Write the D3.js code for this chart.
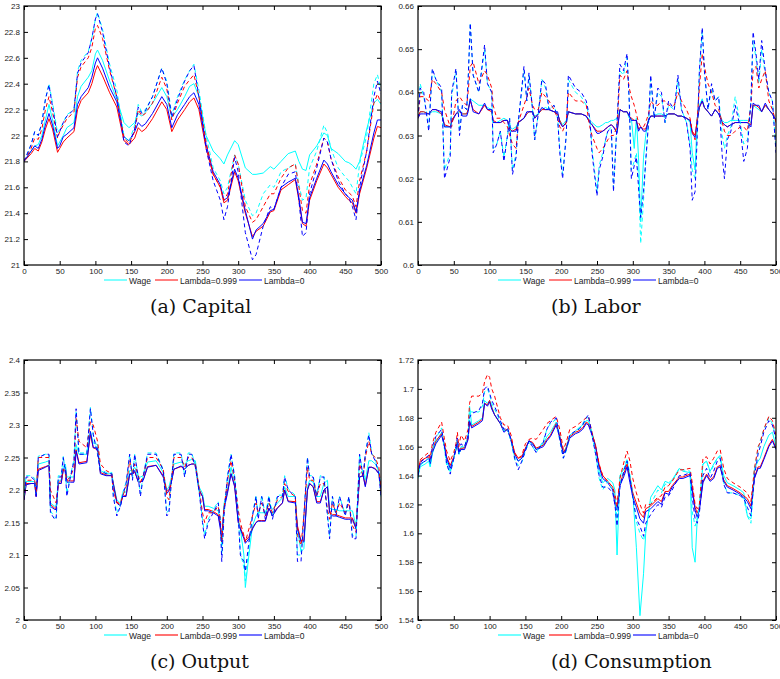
<!DOCTYPE html>
<html>
<head>
  <meta charset="utf-8">
  <title>Capital, Labor, Output, Consumption</title>
  <script src="https://d3js.org/d3.v7.min.js"></script>
  <style>
    body { margin: 0; background: #fff; }
    .tick text { font-family: "Liberation Sans", Arial, sans-serif; font-size: 8px; fill: #222; }
    .legend text { font-family: "Liberation Sans", Arial, sans-serif; font-size: 8.5px; fill: #222; }
    .caption { font-family: "DejaVu Serif", serif; font-size: 19px; fill: #111; }
  </style>
</head>
<body>
  <script>
    // ---- data ----
    var seriesNames = ["Wage", "Lambda=0.999", "Lambda=0"];
    var xTicks = [0, 50, 100, 150, 200, 250, 300, 350, 400, 450, 500];

    // (a) Capital
    var capitalX = [0,10,15,20,25,30,35,40,47,50,55,60,70,75,80,90,95,100,103,110,120,130,140,147,155,160,165,170,180,193,200,207,215,225,232,238,245,255,265,275,280,285,295,300,310,320,325,335,345,350,360,370,380,385,390,395,400,410,420,425,430,440,450,455,460,465,470,480,490,495,500];
    var capitalWageSolid = [21.8,21.88,21.92,21.93,22.0,22.12,22.24,22.12,21.92,21.95,22.0,22.06,22.1,22.3,22.38,22.45,22.5,22.63,22.66,22.58,22.42,22.28,22.1,22.06,22.1,22.17,22.15,22.18,22.25,22.37,22.3,22.14,22.2,22.3,22.38,22.4,22.3,22.0,21.88,21.82,21.78,21.85,21.96,21.93,21.75,21.7,21.7,21.71,21.76,21.74,21.8,21.86,21.88,21.8,21.74,21.73,21.85,21.92,22.02,22.0,21.9,21.86,21.8,21.79,21.77,21.74,21.8,22.05,22.25,22.28,22.24];
    var capitalLam999Solid = [21.8,21.86,21.9,21.88,21.95,22.05,22.13,22.05,21.87,21.9,21.95,21.98,22.03,22.2,22.27,22.33,22.4,22.5,22.54,22.46,22.33,22.22,21.96,21.93,21.98,22.06,22.03,22.05,22.13,22.26,22.2,22.03,22.12,22.2,22.26,22.29,22.2,21.9,21.7,21.6,21.48,21.5,21.72,21.65,21.4,21.22,21.26,21.3,21.41,21.42,21.58,21.62,21.66,21.5,21.32,21.3,21.5,21.65,21.78,21.75,21.7,21.6,21.53,21.5,21.48,21.4,21.55,21.75,21.98,22.07,22.06];
    var capitalLam0Solid = [21.8,21.88,21.92,21.9,21.97,22.08,22.17,22.08,21.9,21.92,21.99,22.01,22.06,22.24,22.3,22.37,22.45,22.56,22.6,22.52,22.37,22.26,21.99,21.96,22.03,22.1,22.07,22.09,22.17,22.3,22.24,22.06,22.16,22.24,22.3,22.33,22.24,21.93,21.72,21.62,21.5,21.52,21.74,21.67,21.42,21.2,21.27,21.32,21.42,21.43,21.6,21.64,21.67,21.52,21.33,21.32,21.52,21.67,21.81,21.78,21.72,21.62,21.55,21.52,21.5,21.41,21.57,21.77,22.02,22.12,22.12];
    var capitalWageDashed = [21.8,21.93,22.03,22.0,22.1,22.28,22.4,22.25,22.02,22.05,22.1,22.16,22.2,22.5,22.58,22.65,22.75,22.9,22.95,22.82,22.55,22.35,22.0,21.95,22.08,22.24,22.18,22.2,22.3,22.52,22.42,22.16,22.3,22.43,22.5,22.55,22.35,22.0,21.75,21.65,21.55,21.6,21.85,21.78,21.5,21.38,21.4,21.55,21.62,21.6,21.72,21.75,21.78,21.62,21.5,21.52,21.75,21.88,22.08,22.02,21.9,21.75,21.68,21.65,21.6,21.55,21.78,22.0,22.4,22.47,22.36];
    var capitalLam999Dashed = [21.8,21.9,21.98,21.97,22.05,22.2,22.3,22.18,21.98,22.03,22.08,22.13,22.18,22.45,22.53,22.6,22.68,22.83,22.85,22.75,22.5,22.3,21.98,21.94,22.03,22.2,22.15,22.17,22.25,22.45,22.36,22.12,22.25,22.38,22.43,22.47,22.3,21.95,21.7,21.6,21.5,21.55,21.85,21.78,21.45,21.33,21.35,21.45,21.55,21.55,21.67,21.75,21.78,21.6,21.42,21.4,21.62,21.78,21.98,21.95,21.82,21.68,21.58,21.56,21.53,21.45,21.65,21.88,22.25,22.32,22.25];
    var capitalLam0Dashed = [21.8,21.93,22.03,22.0,22.1,22.28,22.39,22.22,21.99,22.03,22.1,22.15,22.2,22.48,22.56,22.64,22.75,22.9,22.94,22.8,22.52,22.3,21.95,21.92,22.05,22.22,22.17,22.19,22.3,22.52,22.4,22.14,22.28,22.42,22.5,22.54,22.3,21.9,21.65,21.5,21.35,21.45,21.83,21.72,21.25,21.04,21.08,21.3,21.45,21.43,21.6,21.7,21.72,21.5,21.22,21.25,21.55,21.75,21.98,21.95,21.82,21.65,21.55,21.52,21.45,21.35,21.6,21.88,22.3,22.42,22.32];
    var capitalYTicks = [21, 21.2, 21.4, 21.6, 21.8, 22, 22.2, 22.4, 22.6, 22.8, 23];

    // (b) Labor
    var laborX = [0,3,8,15,20,25,33,37,45,47,53,58,62,68,70,73,77,85,93,97,103,105,110,115,120,125,128,132,137,140,148,152,155,160,163,168,173,178,183,190,195,198,202,207,210,220,228,235,240,243,250,253,258,262,265,270,273,278,282,287,292,295,298,302,305,308,311,315,318,322,325,330,335,340,345,350,358,363,368,375,380,383,387,390,393,397,400,405,410,415,420,425,428,432,437,443,450,455,460,465,468,472,476,480,485,490,495,500];
    var laborWageSolid = [0.6345,0.6355,0.6355,0.635,0.6355,0.6355,0.635,0.632,0.632,0.6335,0.635,0.6355,0.635,0.635,0.636,0.6385,0.638,0.637,0.637,0.6365,0.636,0.633,0.633,0.6335,0.634,0.6335,0.632,0.6315,0.632,0.633,0.634,0.635,0.6355,0.6355,0.6345,0.635,0.636,0.6365,0.636,0.6355,0.635,0.6335,0.6325,0.6335,0.6355,0.635,0.635,0.6345,0.6335,0.633,0.632,0.632,0.6325,0.633,0.633,0.6335,0.6335,0.634,0.636,0.6355,0.6355,0.634,0.634,0.627,0.634,0.625,0.610,0.625,0.630,0.634,0.6345,0.6345,0.635,0.635,0.6345,0.635,0.635,0.6345,0.6345,0.634,0.633,0.626,0.622,0.634,0.637,0.6385,0.6365,0.6355,0.6345,0.636,0.635,0.6335,0.633,0.633,0.6335,0.6335,0.6335,0.6335,0.6335,0.633,0.637,0.6365,0.636,0.6355,0.637,0.636,0.635,0.6335];
    var laborLam999Solid = [0.634,0.6355,0.6355,0.635,0.636,0.636,0.635,0.6325,0.632,0.6335,0.635,0.6355,0.635,0.635,0.636,0.638,0.636,0.635,0.637,0.636,0.6355,0.6335,0.633,0.633,0.6335,0.6335,0.6315,0.631,0.6315,0.633,0.634,0.635,0.6355,0.6355,0.634,0.635,0.636,0.636,0.636,0.6355,0.635,0.6335,0.632,0.633,0.6355,0.635,0.635,0.6345,0.633,0.6325,0.631,0.631,0.631,0.6315,0.632,0.6325,0.632,0.631,0.636,0.6355,0.6355,0.6345,0.634,0.6335,0.6335,0.6315,0.632,0.6315,0.6315,0.6335,0.6345,0.6345,0.6345,0.6345,0.6345,0.635,0.635,0.6345,0.6345,0.634,0.6335,0.631,0.630,0.6335,0.6365,0.638,0.6365,0.6355,0.6345,0.636,0.635,0.633,0.6325,0.632,0.6325,0.633,0.633,0.633,0.633,0.6325,0.637,0.637,0.6365,0.6355,0.637,0.636,0.635,0.6335];
    var laborLam0Solid = [0.634,0.635,0.635,0.635,0.636,0.636,0.6355,0.632,0.632,0.633,0.635,0.636,0.6345,0.6345,0.6355,0.6385,0.6355,0.635,0.6375,0.636,0.636,0.633,0.633,0.633,0.6335,0.6335,0.631,0.631,0.631,0.633,0.634,0.6355,0.6355,0.6355,0.634,0.635,0.6365,0.636,0.636,0.6355,0.6355,0.633,0.632,0.633,0.6355,0.635,0.635,0.6345,0.633,0.6325,0.6305,0.6305,0.631,0.6315,0.632,0.6325,0.632,0.6305,0.636,0.6355,0.6355,0.6345,0.6335,0.6335,0.6335,0.631,0.632,0.631,0.631,0.6335,0.6345,0.6345,0.6345,0.6345,0.6345,0.635,0.635,0.6345,0.6345,0.634,0.6335,0.6305,0.6295,0.6335,0.6365,0.638,0.6365,0.6355,0.6345,0.636,0.635,0.633,0.6325,0.632,0.6325,0.633,0.633,0.633,0.633,0.632,0.6375,0.637,0.637,0.6355,0.6375,0.636,0.635,0.6335];
    var laborWageDashed = [0.634,0.642,0.639,0.632,0.645,0.643,0.640,0.622,0.626,0.639,0.645,0.631,0.637,0.636,0.642,0.656,0.644,0.640,0.650,0.642,0.640,0.627,0.628,0.631,0.625,0.630,0.634,0.622,0.626,0.633,0.645,0.638,0.644,0.636,0.629,0.635,0.643,0.641,0.636,0.637,0.634,0.627,0.621,0.630,0.643,0.640,0.639,0.637,0.634,0.627,0.617,0.623,0.626,0.629,0.631,0.632,0.618,0.633,0.645,0.644,0.648,0.638,0.622,0.624,0.626,0.620,0.605,0.615,0.624,0.633,0.643,0.634,0.640,0.639,0.633,0.637,0.636,0.643,0.636,0.633,0.628,0.622,0.620,0.631,0.645,0.654,0.645,0.636,0.641,0.638,0.639,0.630,0.627,0.630,0.632,0.639,0.633,0.628,0.629,0.638,0.652,0.648,0.642,0.650,0.644,0.640,0.638,0.627];
    var laborLam999Dashed = [0.634,0.639,0.639,0.638,0.643,0.642,0.640,0.636,0.632,0.632,0.638,0.639,0.638,0.637,0.640,0.646,0.647,0.642,0.645,0.644,0.641,0.637,0.634,0.634,0.633,0.632,0.630,0.628,0.627,0.633,0.637,0.639,0.641,0.637,0.636,0.636,0.640,0.639,0.638,0.636,0.634,0.632,0.631,0.633,0.640,0.638,0.638,0.637,0.632,0.630,0.627,0.626,0.627,0.628,0.629,0.630,0.630,0.632,0.644,0.643,0.645,0.641,0.639,0.637,0.635,0.633,0.632,0.632,0.633,0.635,0.638,0.637,0.637,0.638,0.638,0.637,0.637,0.640,0.638,0.636,0.634,0.631,0.629,0.634,0.641,0.649,0.646,0.642,0.640,0.637,0.636,0.633,0.631,0.630,0.630,0.631,0.632,0.632,0.631,0.637,0.645,0.646,0.641,0.643,0.645,0.638,0.636,0.633];
    var laborLam0Dashed = [0.634,0.641,0.640,0.631,0.6455,0.643,0.641,0.620,0.625,0.640,0.6455,0.630,0.637,0.636,0.643,0.656,0.644,0.640,0.651,0.642,0.640,0.626,0.628,0.631,0.624,0.630,0.634,0.621,0.625,0.633,0.646,0.638,0.6445,0.636,0.629,0.635,0.643,0.642,0.636,0.637,0.634,0.626,0.620,0.630,0.644,0.641,0.640,0.638,0.634,0.626,0.616,0.622,0.625,0.629,0.631,0.6315,0.617,0.633,0.6465,0.645,0.649,0.638,0.620,0.623,0.625,0.618,0.611,0.617,0.624,0.633,0.644,0.634,0.641,0.640,0.633,0.638,0.636,0.644,0.636,0.633,0.627,0.615,0.617,0.630,0.645,0.655,0.645,0.636,0.642,0.638,0.639,0.625,0.620,0.629,0.631,0.637,0.632,0.624,0.627,0.638,0.654,0.649,0.643,0.652,0.645,0.640,0.638,0.626];
    var laborYTicks = [0.6, 0.61, 0.62, 0.63, 0.64, 0.65, 0.66];

    // (c) Output
    var outputX = [0,3,10,15,17,20,30,35,37,43,45,48,52,55,58,60,65,70,73,77,88,93,97,103,107,115,123,125,130,135,138,143,148,152,155,160,163,167,173,185,195,200,203,207,210,220,225,230,235,240,245,250,253,258,265,272,275,277,280,285,290,295,300,303,308,310,315,320,325,328,333,338,343,348,355,362,365,370,380,383,388,392,397,400,405,410,415,420,425,428,432,437,442,450,455,460,465,470,475,478,483,487,492,497,500];
    var outputWageSolid = [2.19,2.213,2.213,2.213,2.195,2.24,2.243,2.245,2.18,2.175,2.175,2.215,2.215,2.235,2.24,2.22,2.22,2.22,2.27,2.255,2.255,2.29,2.272,2.27,2.23,2.225,2.225,2.212,2.185,2.18,2.195,2.197,2.23,2.23,2.235,2.22,2.22,2.222,2.243,2.245,2.227,2.2,2.205,2.222,2.24,2.243,2.24,2.245,2.247,2.245,2.205,2.195,2.175,2.175,2.172,2.168,2.15,2.115,2.178,2.2,2.235,2.21,2.155,2.14,2.1,2.05,2.1,2.145,2.16,2.165,2.165,2.165,2.18,2.17,2.18,2.188,2.205,2.19,2.19,2.14,2.105,2.11,2.205,2.215,2.212,2.19,2.19,2.21,2.215,2.172,2.17,2.17,2.168,2.168,2.168,2.168,2.145,2.225,2.23,2.215,2.245,2.245,2.24,2.23,2.205];
    var outputLam999Solid = [2.185,2.21,2.21,2.21,2.19,2.232,2.236,2.238,2.178,2.172,2.172,2.21,2.21,2.23,2.232,2.214,2.214,2.214,2.262,2.242,2.244,2.285,2.265,2.262,2.227,2.223,2.222,2.21,2.182,2.177,2.19,2.192,2.224,2.224,2.228,2.213,2.213,2.216,2.236,2.238,2.222,2.198,2.2,2.216,2.232,2.236,2.232,2.238,2.24,2.24,2.202,2.19,2.17,2.17,2.167,2.162,2.145,2.125,2.172,2.198,2.225,2.207,2.152,2.142,2.128,2.122,2.128,2.142,2.15,2.153,2.153,2.153,2.172,2.162,2.173,2.18,2.2,2.183,2.182,2.145,2.122,2.122,2.2,2.21,2.205,2.182,2.182,2.2,2.205,2.166,2.162,2.162,2.16,2.157,2.157,2.157,2.142,2.22,2.222,2.207,2.235,2.235,2.233,2.225,2.2];
    var outputLam0Solid = [2.185,2.208,2.21,2.21,2.19,2.23,2.235,2.238,2.175,2.17,2.17,2.21,2.21,2.232,2.235,2.212,2.212,2.212,2.26,2.24,2.242,2.29,2.265,2.265,2.225,2.222,2.222,2.21,2.18,2.175,2.19,2.19,2.225,2.225,2.23,2.212,2.212,2.215,2.235,2.238,2.22,2.195,2.198,2.215,2.232,2.237,2.232,2.238,2.24,2.24,2.2,2.19,2.168,2.168,2.165,2.16,2.14,2.12,2.17,2.195,2.225,2.205,2.15,2.14,2.125,2.118,2.125,2.14,2.15,2.152,2.152,2.152,2.172,2.16,2.172,2.18,2.2,2.182,2.18,2.14,2.12,2.12,2.2,2.21,2.205,2.18,2.18,2.2,2.205,2.165,2.16,2.16,2.158,2.155,2.155,2.155,2.14,2.22,2.222,2.205,2.235,2.235,2.232,2.225,2.2];
    var outputWageDashed = [2.19,2.222,2.222,2.218,2.192,2.252,2.255,2.255,2.168,2.158,2.157,2.222,2.222,2.252,2.228,2.195,2.222,2.247,2.322,2.257,2.257,2.327,2.285,2.257,2.232,2.227,2.227,2.195,2.165,2.178,2.195,2.212,2.255,2.218,2.255,2.222,2.195,2.222,2.257,2.257,2.232,2.165,2.17,2.222,2.257,2.257,2.222,2.257,2.257,2.237,2.2,2.155,2.13,2.155,2.17,2.182,2.155,2.1,2.165,2.222,2.255,2.222,2.165,2.105,2.08,2.06,2.11,2.162,2.192,2.16,2.192,2.16,2.192,2.16,2.192,2.192,2.222,2.202,2.192,2.1,2.1,2.16,2.25,2.222,2.222,2.192,2.222,2.222,2.165,2.13,2.19,2.162,2.19,2.162,2.19,2.13,2.128,2.255,2.222,2.255,2.288,2.257,2.247,2.227,2.19];
    var outputLam999Dashed = [2.185,2.215,2.215,2.215,2.195,2.25,2.25,2.25,2.2,2.185,2.18,2.21,2.215,2.232,2.225,2.215,2.22,2.235,2.31,2.275,2.265,2.305,2.3,2.275,2.24,2.23,2.225,2.2,2.18,2.18,2.19,2.205,2.245,2.225,2.24,2.222,2.212,2.222,2.25,2.25,2.232,2.19,2.185,2.22,2.25,2.25,2.235,2.25,2.25,2.238,2.205,2.165,2.15,2.165,2.165,2.175,2.155,2.12,2.17,2.215,2.245,2.215,2.17,2.15,2.13,2.12,2.14,2.16,2.18,2.165,2.18,2.16,2.18,2.165,2.185,2.19,2.21,2.198,2.19,2.13,2.115,2.16,2.235,2.215,2.215,2.19,2.21,2.21,2.17,2.155,2.18,2.165,2.18,2.165,2.18,2.145,2.135,2.24,2.22,2.25,2.275,2.255,2.25,2.235,2.2];
    var outputLam0Dashed = [2.185,2.22,2.22,2.215,2.19,2.25,2.255,2.255,2.165,2.155,2.155,2.22,2.22,2.25,2.225,2.19,2.22,2.245,2.325,2.255,2.255,2.325,2.285,2.255,2.23,2.225,2.225,2.19,2.16,2.175,2.19,2.21,2.255,2.215,2.255,2.22,2.19,2.22,2.255,2.255,2.23,2.16,2.165,2.22,2.255,2.255,2.22,2.255,2.255,2.235,2.2,2.15,2.125,2.15,2.165,2.18,2.15,2.09,2.16,2.22,2.255,2.22,2.16,2.1,2.09,2.075,2.12,2.16,2.19,2.155,2.19,2.155,2.19,2.155,2.19,2.19,2.22,2.2,2.19,2.09,2.09,2.16,2.25,2.22,2.22,2.19,2.22,2.22,2.16,2.125,2.19,2.16,2.19,2.16,2.19,2.125,2.125,2.255,2.22,2.255,2.285,2.255,2.245,2.225,2.19];
    var outputYTicks = [2, 2.05, 2.1, 2.15, 2.2, 2.25, 2.3, 2.35, 2.4];

    // (d) Consumption
    var consX = [0,3,10,15,17,20,25,33,37,40,45,50,53,55,57,60,65,70,72,75,85,90,93,97,100,103,107,115,120,125,130,135,140,145,150,155,160,165,175,180,185,193,198,203,207,212,220,225,230,235,238,243,248,253,258,265,272,275,278,282,288,292,296,300,305,310,315,318,325,335,340,345,350,355,365,370,380,383,387,390,393,398,403,408,413,418,422,427,432,440,450,455,460,465,470,475,478,483,490,495,500];
    var consWageSolid = [1.639,1.646,1.648,1.65,1.646,1.655,1.663,1.67,1.66,1.65,1.643,1.652,1.658,1.663,1.655,1.658,1.66,1.667,1.688,1.675,1.678,1.68,1.692,1.69,1.692,1.688,1.682,1.676,1.671,1.672,1.664,1.653,1.65,1.652,1.658,1.664,1.662,1.658,1.662,1.667,1.67,1.677,1.668,1.655,1.66,1.668,1.671,1.673,1.675,1.678,1.678,1.67,1.66,1.643,1.635,1.638,1.635,1.63,1.585,1.64,1.645,1.65,1.64,1.628,1.59,1.543,1.572,1.6,1.625,1.633,1.63,1.636,1.635,1.637,1.645,1.643,1.642,1.59,1.58,1.61,1.618,1.648,1.65,1.643,1.648,1.652,1.653,1.64,1.635,1.633,1.63,1.628,1.612,1.61,1.645,1.65,1.652,1.66,1.668,1.67,1.66];
    var consLam999Solid = [1.641,1.65,1.652,1.653,1.65,1.658,1.664,1.669,1.661,1.653,1.647,1.653,1.659,1.664,1.656,1.659,1.659,1.666,1.677,1.674,1.677,1.679,1.69,1.689,1.692,1.687,1.682,1.676,1.671,1.672,1.665,1.656,1.652,1.653,1.659,1.664,1.663,1.659,1.661,1.665,1.668,1.676,1.667,1.656,1.659,1.667,1.67,1.671,1.673,1.677,1.676,1.669,1.661,1.647,1.64,1.636,1.632,1.623,1.618,1.635,1.642,1.648,1.638,1.628,1.621,1.614,1.611,1.617,1.619,1.624,1.622,1.629,1.629,1.633,1.639,1.639,1.641,1.632,1.618,1.614,1.618,1.636,1.641,1.637,1.639,1.646,1.647,1.637,1.633,1.631,1.628,1.626,1.624,1.619,1.639,1.646,1.646,1.652,1.661,1.665,1.659];
    var consLam0Solid = [1.64,1.648,1.65,1.652,1.648,1.656,1.662,1.668,1.66,1.652,1.645,1.652,1.658,1.663,1.655,1.658,1.658,1.665,1.678,1.673,1.676,1.678,1.69,1.688,1.691,1.686,1.682,1.676,1.67,1.672,1.664,1.655,1.65,1.652,1.658,1.664,1.662,1.658,1.66,1.664,1.667,1.675,1.666,1.655,1.658,1.666,1.669,1.67,1.672,1.676,1.675,1.668,1.66,1.646,1.638,1.635,1.63,1.62,1.616,1.633,1.64,1.646,1.635,1.625,1.618,1.61,1.607,1.615,1.617,1.622,1.62,1.628,1.627,1.632,1.638,1.638,1.64,1.63,1.616,1.611,1.616,1.635,1.64,1.636,1.638,1.645,1.646,1.636,1.632,1.63,1.627,1.625,1.622,1.617,1.638,1.645,1.645,1.651,1.66,1.664,1.658];
    var consWageDashed = [1.638,1.647,1.65,1.652,1.647,1.658,1.666,1.673,1.658,1.647,1.642,1.652,1.66,1.665,1.654,1.66,1.66,1.668,1.685,1.684,1.684,1.688,1.698,1.7,1.696,1.69,1.686,1.677,1.671,1.672,1.664,1.651,1.647,1.649,1.657,1.663,1.66,1.656,1.664,1.672,1.676,1.679,1.664,1.652,1.657,1.667,1.671,1.673,1.676,1.68,1.68,1.668,1.655,1.638,1.63,1.636,1.63,1.625,1.61,1.634,1.645,1.652,1.64,1.626,1.608,1.6,1.595,1.603,1.62,1.63,1.628,1.634,1.634,1.636,1.645,1.644,1.643,1.615,1.605,1.61,1.62,1.648,1.65,1.642,1.647,1.652,1.654,1.635,1.628,1.628,1.626,1.624,1.612,1.607,1.645,1.658,1.664,1.672,1.68,1.676,1.666];
    var consLam999Dashed = [1.641,1.651,1.654,1.656,1.652,1.662,1.67,1.677,1.665,1.657,1.65,1.656,1.662,1.67,1.66,1.668,1.664,1.672,1.69,1.695,1.695,1.697,1.705,1.71,1.708,1.7,1.695,1.68,1.675,1.675,1.668,1.655,1.652,1.654,1.662,1.665,1.666,1.665,1.672,1.676,1.678,1.681,1.672,1.658,1.663,1.672,1.674,1.676,1.678,1.68,1.681,1.67,1.66,1.648,1.64,1.636,1.632,1.627,1.62,1.638,1.65,1.657,1.65,1.638,1.628,1.62,1.614,1.62,1.62,1.625,1.626,1.632,1.633,1.636,1.644,1.644,1.645,1.635,1.62,1.617,1.62,1.652,1.653,1.648,1.652,1.657,1.658,1.645,1.638,1.635,1.632,1.63,1.628,1.622,1.645,1.66,1.663,1.672,1.681,1.678,1.668];
    var consLam0Dashed = [1.64,1.649,1.652,1.654,1.649,1.66,1.667,1.672,1.66,1.648,1.641,1.652,1.66,1.666,1.655,1.662,1.66,1.668,1.68,1.683,1.685,1.69,1.7,1.702,1.697,1.692,1.688,1.678,1.672,1.673,1.665,1.652,1.644,1.65,1.657,1.664,1.66,1.656,1.663,1.672,1.677,1.68,1.665,1.652,1.658,1.668,1.671,1.672,1.675,1.68,1.682,1.668,1.655,1.64,1.632,1.632,1.628,1.62,1.605,1.632,1.644,1.65,1.638,1.625,1.61,1.605,1.598,1.607,1.613,1.62,1.618,1.625,1.626,1.63,1.64,1.64,1.642,1.625,1.61,1.607,1.614,1.64,1.645,1.638,1.643,1.65,1.652,1.634,1.628,1.628,1.626,1.624,1.618,1.612,1.64,1.655,1.66,1.67,1.678,1.675,1.665];
    var consYTicks = [1.54, 1.56, 1.58, 1.6, 1.62, 1.64, 1.66, 1.68, 1.7, 1.72];

    // ---- drawing ----
    var colors = ["#00ffff", "#ff0000", "#0000ff"];

    // captions sit left-aligned at the same x in each column
    var panels = [
      { caption: "(a) Capital", capX: 150, left: 24, top: 6, w: 357, h: 259, x: capitalX, yTicks: capitalYTicks,
        solid: [capitalWageSolid, capitalLam999Solid, capitalLam0Solid],
        dashed: [capitalWageDashed, capitalLam999Dashed, capitalLam0Dashed], faded: false },
      { caption: "(b) Labor", capX: 551, left: 418, top: 6, w: 358, h: 259, x: laborX, yTicks: laborYTicks,
        solid: [laborWageSolid, laborLam999Solid, laborLam0Solid],
        dashed: [laborWageDashed, laborLam999Dashed, laborLam0Dashed], faded: false },
      { caption: "(c) Output", capX: 150, left: 24, top: 360, w: 357, h: 260, x: outputX, yTicks: outputYTicks,
        solid: [outputWageSolid, outputLam999Solid, outputLam0Solid],
        dashed: [outputWageDashed, outputLam999Dashed, outputLam0Dashed], faded: true },
      { caption: "(d) Consumption", capX: 551, left: 418, top: 360, w: 358, h: 260, x: consX, yTicks: consYTicks,
        solid: [consWageSolid, consLam999Solid, consLam0Solid],
        dashed: [consWageDashed, consLam999Dashed, consLam0Dashed], faded: true }
    ];

    var svg = d3.select("body").append("svg")
      .attr("width", 780).attr("height", 679)
      .style("display", "block");
    svg.append("rect").attr("width", 780).attr("height", 679).attr("fill", "#fff");

    var fmt = d3.format(".4~f");

    panels.forEach(function(p, i) {
      var yt = p.yTicks;
      var x = d3.scaleLinear().domain([0, 500]).range([p.left, p.left + p.w]);
      var y = d3.scaleLinear().domain([yt[0], yt[yt.length - 1]]).range([p.top + p.h, p.top]);
      var g = svg.append("g");

      var clipId = "clip" + i;
      g.append("clipPath").attr("id", clipId).append("rect")
        .attr("x", p.left).attr("y", p.top).attr("width", p.w).attr("height", p.h);

      function draw(values, color, dashed) {
        var line = d3.line()
          .x(function(d, k) { return x(p.x[k]); })
          .y(function(d) { return y(d); });
        g.append("path")
          .attr("clip-path", "url(#" + clipId + ")")
          .attr("d", line(values))
          .attr("fill", "none")
          .attr("stroke", color)
          .attr("stroke-width", 1)
          .attr("stroke-dasharray", dashed ? "4,3" : null);
      }
      p.solid.forEach(function(s, k) { draw(s, colors[k], false); });
      p.dashed.forEach(function(s, k) { draw(s, colors[k], true); });

      // matlab style box with inward ticks on every side
      g.append("g").attr("transform", "translate(0," + (p.top + p.h) + ")")
        .call(d3.axisBottom(x).tickValues(xTicks).tickSizeInner(-4).tickSizeOuter(0).tickPadding(3));
      g.append("g").attr("transform", "translate(" + p.left + ",0)")
        .call(d3.axisLeft(y).tickValues(yt).tickFormat(fmt).tickSizeInner(-4).tickSizeOuter(0).tickPadding(4));
      g.append("g").attr("transform", "translate(0," + p.top + ")")
        .call(d3.axisTop(x).tickValues(xTicks).tickFormat("").tickSizeInner(-4).tickSizeOuter(0));
      g.append("g").attr("transform", "translate(" + (p.left + p.w) + ",0)")
        .call(d3.axisRight(y).tickValues(yt).tickFormat("").tickSizeInner(-4).tickSizeOuter(0));
      g.selectAll(".domain").remove();
      g.selectAll(".tick line").attr("stroke", "#000");
      g.append("rect")
        .attr("x", p.left).attr("y", p.top).attr("width", p.w).attr("height", p.h)
        .attr("fill", "none").attr("stroke", "#000").attr("stroke-width", 1.2);

      // legend below the x axis
      var ly = p.top + p.h + 15;
      var lg = g.append("g").attr("class", "legend");
      var slots = [80, 131, 215];
      seriesNames.forEach(function(name, k) {
        lg.append("line")
          .attr("x1", p.left + slots[k]).attr("x2", p.left + slots[k] + 23)
          .attr("y1", ly).attr("y2", ly)
          .attr("stroke", colors[k])
          .attr("stroke-width", p.faded ? 2 : 1)
          .attr("stroke-opacity", p.faded ? 0.55 : 1);
        lg.append("text")
          .attr("x", p.left + slots[k] + 25).attr("y", ly + 3.5)
          .text(name);
      });

      svg.append("text").attr("class", "caption")
        .attr("x", p.capX).attr("y", p.top + p.h + 48)
        .text(p.caption);
    });
  </script>
</body>
</html>
